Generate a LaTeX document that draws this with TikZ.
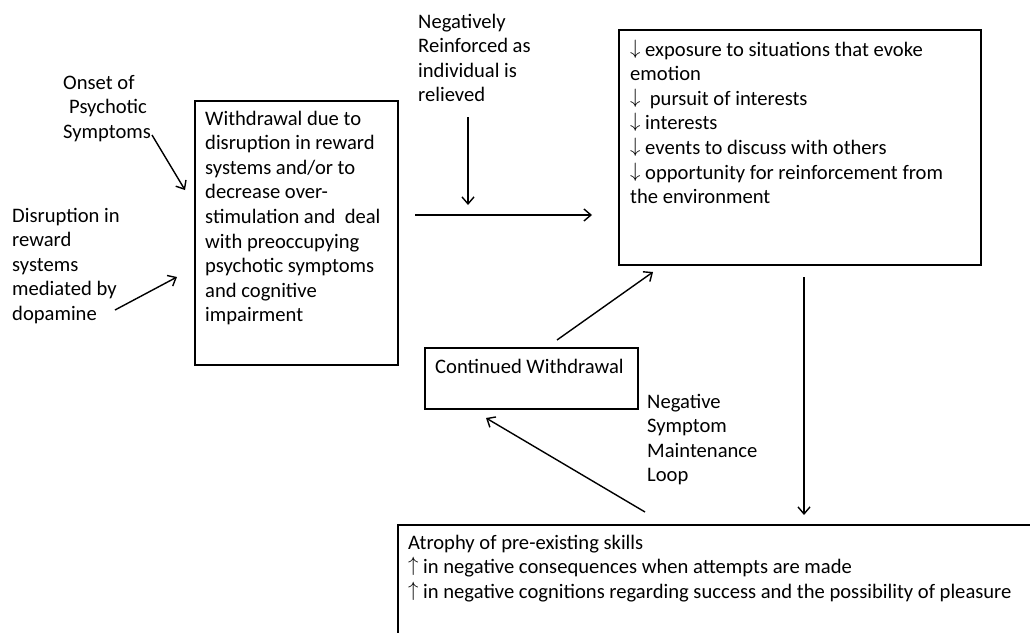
\documentclass[tikz,border=0pt]{standalone}
\usepackage{fontspec}
\setmainfont{Carlito}
\usetikzlibrary{arrows.meta}
\newcommand{\myDown}{\smash{\raisebox{2pt}{\fontsize{22}{22}\selectfont$\downarrow$}}}
\newcommand{\myUp}{\smash{\raisebox{2pt}{\fontsize{22}{22}\selectfont$\uparrow$}}}
\begin{document}
\begin{tikzpicture}[x=1pt,y=-1pt,
  box/.style={draw, line width=1.9pt, inner sep=0pt, anchor=north west},
  lbl/.style={anchor=base west, align=left, inner sep=0pt, font=\fontsize{20.6}{24.6}\selectfont},
  arr/.style={line width=1.4pt, -{Straight Barb[length=7pt,width=12pt]}}]
\useasboundingbox (0,0) rectangle (1030,632);
\clip (0,0) rectangle (1030,632);
% boxes
\node[box, minimum width=203pt, minimum height=264pt] (wbox) at (194,100) {};
\node[box, minimum width=362pt, minimum height=235pt] (ebox) at (618,29) {};
\node[box, minimum width=213pt, minimum height=61pt] (cbox) at (424,347) {};
\node[box, minimum width=660pt, minimum height=140pt] (abox) at (397,524) {};
% texts (anchored at the baseline of their last line)
\node[lbl] (onset) at (63,138.2) {Onset of\\\hspace*{6pt}Psychotic\\Symptoms};
\node[lbl] (disr) at (12,320.4) {Disruption in\\reward\\systems\\mediated by\\dopamine};
\node[lbl] (wtxt) at (205,321.8) {Withdrawal due to\\disruption in reward\\systems and/or to\\decrease over-\\stimulation and\ \ deal\\with preoccupying\\psychotic symptoms\\and cognitive\\impairment};
\node[lbl] (neg) at (418,101.8) {Negatively\\Reinforced as\\individual is\\relieved};
\node[lbl] (etxt) at (630,203.6) {\myDown\ exposure to situations that evoke\\emotion\\\myDown\ \ pursuit of interests\\\myDown\ interests\\\myDown\ events to discuss with others\\\myDown\ opportunity for reinforcement from\\the environment};
\node[lbl] (ctxt) at (435,373) {Continued Withdrawal};
\node[lbl] (loop) at (647,481.8) {Negative\\Symptom\\Maintenance\\Loop};
\node[lbl] (atxt) at (408,598.2) {Atrophy of pre-existing skills\\\myUp\ in negative consequences when attempts are made\\\myUp\ in negative cognitions regarding success and the possibility of pleasure};
% connector ends
\coordinate (o1) at (152,135); \coordinate (o2) at (185,190);
\coordinate (d1) at (115,310); \coordinate (d2) at (177,277);
\coordinate (n1) at (468,117); \coordinate (n2) at (468,205);
\coordinate (h1) at (415,215); \coordinate (h2) at (592,215);
\coordinate (c1) at (557,340); \coordinate (c2) at (653,272);
\coordinate (v1) at (804,277); \coordinate (v2) at (804,515);
\coordinate (b1) at (645,512); \coordinate (b2) at (486,418);
\draw[arr] (o1) -- (o2);
\draw[arr] (d1) -- (d2);
\draw[arr] (n1) -- (n2);
\draw[arr] (h1) -- (h2);
\draw[arr] (c1) -- (c2);
\draw[arr] (v1) -- (v2);
\draw[arr] (b1) -- (b2);
\end{tikzpicture}
\end{document}
